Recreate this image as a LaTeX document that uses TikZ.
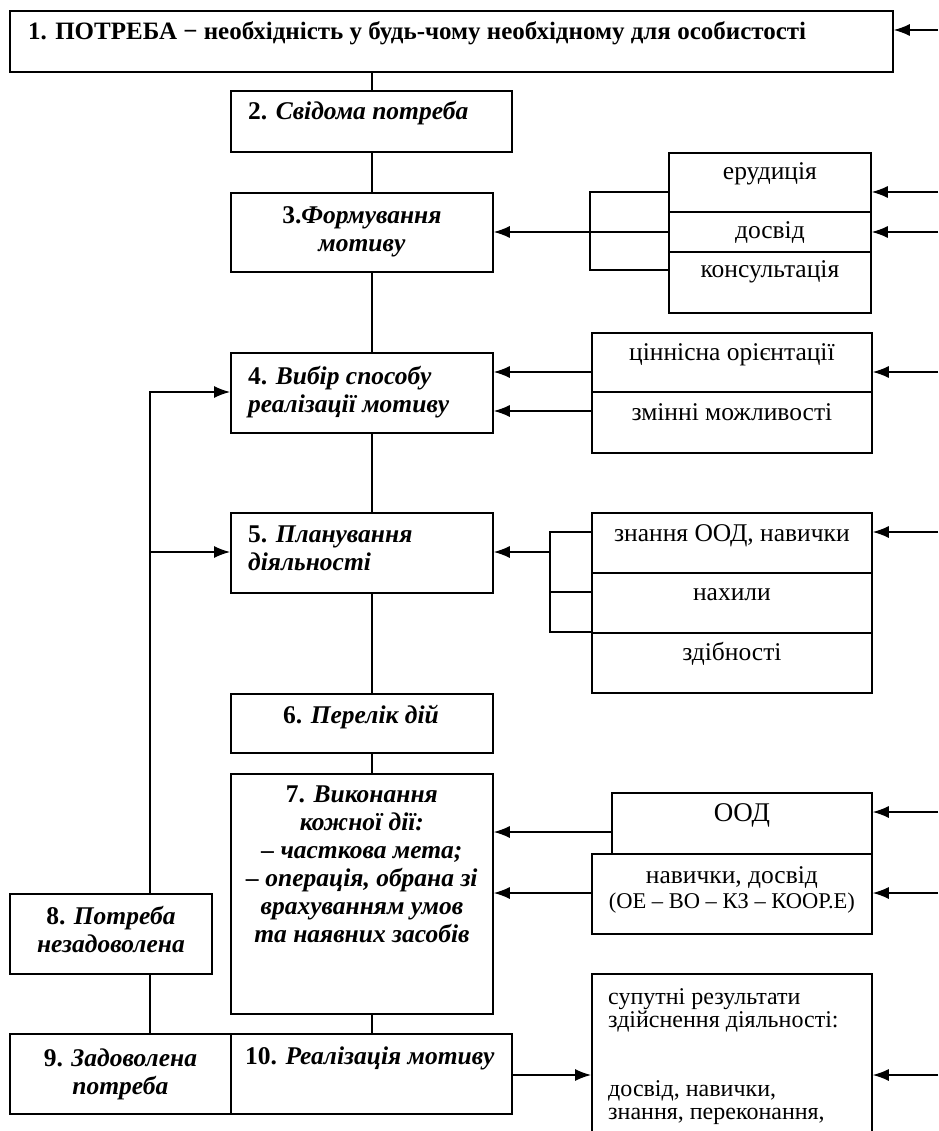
\documentclass[tikz,border=0pt]{standalone}
\usepackage{fontspec}
\setmainfont{Liberation Serif}
\usetikzlibrary{calc, arrows.meta}

\begin{document}
\begin{tikzpicture}[x=1pt, y=-1pt,
	blk/.style={draw=black, line width=1.8pt, inner sep=0pt, anchor=north west},
	lnk/.style={draw=black, line width=1.3pt},
	arr/.style={lnk, -{Latex[length=16pt,width=12pt]}},
	hd/.style={font=\fontsize{25.5}{28}\selectfont\bfseries, inner sep=0pt},
	sm/.style={font=\fontsize{25.5}{25}\selectfont, inner sep=0pt}]

	\useasboundingbox (0,0) rectangle (938,1131);

	\coordinate (spine) at (372,0);
	\coordinate (loop) at (150,0);
	\coordinate (edge) at (938,0);
	\coordinate (bra) at (590,0);
	\coordinate (brc) at (550,0);

	% Main chain
	\node[blk, minimum width=883pt, minimum height=61pt] (need) at (9,10) {};
	\node[blk, minimum width=281pt, minimum height=61pt] (aware) at (230,90) {};
	\node[blk, minimum width=262pt, minimum height=79pt] (form) at (230,192) {};
	\node[blk, minimum width=262pt, minimum height=80pt] (choice) at (230,352) {};
	\node[blk, minimum width=262pt, minimum height=80pt] (plan) at (230,512) {};
	\node[blk, minimum width=262pt, minimum height=59pt] (list) at (230,693) {};
	\node[blk, minimum width=262pt, minimum height=240pt] (exec) at (230,773) {};
	\node[blk, minimum width=202pt, minimum height=80pt] (unmet) at (9,893) {};
	\node[blk, minimum width=221pt, minimum height=80pt] (met) at (9,1033) {};
	\node[blk, minimum width=281pt, minimum height=80pt] (real) at (230,1033) {};

	\node[hd, anchor=base west, font=\fontsize{25}{28}\selectfont\bfseries] (needtxt) at (28,40)
		{1. ПОТРЕБА − необхідність у будь-чому необхідному для особистості};
	\node[hd, anchor=base west] (awaretxt) at (248,120) {2. \textit{Свідома потреба}};
	\node[hd, anchor=north, align=center] (formtxt) at ($(form.north)+(0,14)$)
		{3.\textit{Формування}\\ \textit{мотиву}};
	\node[hd, anchor=north west, align=left] (choicetxt) at ($(choice.north west)+(18,14)$)
		{4. \textit{Вибір способу}\\ \textit{реалізації мотиву}};
	\node[hd, anchor=north west, align=left] (plantxt) at ($(plan.north west)+(18,14)$)
		{5. \textit{Планування}\\ \textit{діяльності}};
	\node[hd, anchor=base] (listtxt) at (361,723) {6. \textit{Перелік дій}};
	\node[hd, anchor=north, align=center] (exectxt) at ($(exec.north)+(0,13)$)
		{7. \textit{Виконання}\\ \textit{кожної дії:}\\ \textit{– часткова мета;}\\
		\textit{– операція, обрана зі}\\ \textit{врахуванням умов}\\ \textit{та наявних засобів}};
	\node[hd, anchor=north, align=center] (unmettxt) at ($(unmet.north)+(0,13)$)
		{8. \textit{Потреба}\\ \textit{незадоволена}};
	\node[hd, anchor=north, align=center] (mettxt) at ($(met.north)+(0,16)$)
		{9. \textit{Задоволена}\\ \textit{потреба}};
	\node[hd, anchor=base west] (realtxt) at (245,1064) {10. \textit{Реалізація мотиву}};

	% Factors
	\node[blk, minimum width=202pt, minimum height=59pt] (erud) at (668,152) {};
	\node[blk, minimum width=202pt, minimum height=40pt] (dosv) at (668,211) {};
	\node[blk, minimum width=202pt, minimum height=61pt] (kons) at (668,251) {};
	\node[blk, minimum width=280pt, minimum height=59pt] (cinn) at (591,332) {};
	\node[blk, minimum width=280pt, minimum height=61pt] (zmin) at (591,391) {};
	\node[blk, minimum width=280pt, minimum height=60pt] (znan) at (591,512) {};
	\node[blk, minimum width=280pt, minimum height=60pt] (nakh) at (591,572) {};
	\node[blk, minimum width=280pt, minimum height=60pt] (zdib) at (591,632) {};
	\node[blk, minimum width=260pt, minimum height=61pt] (ood) at (611,792) {};
	\node[blk, minimum width=280pt, minimum height=80pt] (navy) at (591,853) {};
	\node[blk, minimum width=280pt, minimum height=180pt] (side) at (591,973) {};

	\node[sm, anchor=base] at ($(erud.north)+(0,28)$) {ерудиція};
	\node[sm, anchor=base] at ($(dosv.north)+(0,28)$) {досвід};
	\node[sm, anchor=base] at ($(kons.north)+(0,27)$) {консультація};
	\node[sm, anchor=base] at ($(cinn.north)+(0,28)$) {ціннісна орієнтації};
	\node[sm, anchor=base] at ($(zmin.north)+(0,29)$) {змінні можливості};
	\node[sm, anchor=base] at ($(znan.north)+(0,29)$) {знання ООД, навички};
	\node[sm, anchor=base] at ($(nakh.north)+(0,28)$) {нахили};
	\node[sm, anchor=base] at ($(zdib.north)+(0,28)$) {здібності};
	\node[sm, anchor=base, font=\fontsize{27}{28}\selectfont] at ($(ood.north)+(0,29)$) {ООД};
	\node[sm, anchor=north, align=center] at ($(navy.north)+(0,13)$)
		{навички, досвід\\ {\fontsize{22.5}{25}\selectfont (ОЕ – ВО – КЗ – КООР.Е)}};
	\node[sm, anchor=north west, align=left, font=\fontsize{24}{23}\selectfont]
		at ($(side.north west)+(17,15)$)
		{супутні результати\\ здійснення діяльності:\\[46pt] досвід, навички,\\ знання, переконання,};

	% Spine
	\draw[lnk] (need.south -| spine) -- (aware.north -| spine);
	\draw[lnk] (aware.south -| spine) -- (form.north -| spine);
	\draw[lnk] (form.south -| spine) -- (choice.north -| spine);
	\draw[lnk] (choice.south -| spine) -- (plan.north -| spine);
	\draw[lnk] (plan.south -| spine) -- (list.north -| spine);
	\draw[lnk] (list.south -| spine) -- (exec.north -| spine);
	\draw[lnk] (exec.south -| spine) -- (real.north -| spine);
	\draw[lnk] (unmet.south -| loop) -- (met.north -| loop);

	% Feedback
	\draw[arr]
		let
			\p1=(loop),
			\p2=([yshift=-40pt]choice.north west)
		in
		(unmet.north -| loop) -- (\x1,\y2) -- (\p2);
	\draw[arr]
		let
			\p1=(loop),
			\p2=([yshift=-40pt]plan.north west)
		in
		(\x1,\y2) -- (\p2);
	\draw[arr]
		let
			\p1=([yshift=-42pt]real.north east),
			\p2=(side.west)
		in
		(\p1) -- (\x2,\y1);

	% Brackets
	\draw[lnk]
		let
			\p1=([yshift=-40pt]erud.north west),
			\p2=(bra),
			\p3=([yshift=-19pt]kons.north west)
		in
		(\p1) -- (\x2,\y1) -- (\x2,\y3) -- (\p3);
	\draw[lnk]
		let
			\p1=([yshift=-21pt]dosv.north west),
			\p2=(bra)
		in
		(\p1) -- (\x2,\y1);
	\draw[arr]
		let
			\p1=([yshift=-21pt]dosv.north west),
			\p2=(bra),
			\p3=(form.east)
		in
		(\x2,\y1) -- (\x3,\y1);
	\draw[lnk]
		let
			\p1=([yshift=-20pt]znan.north west),
			\p2=(brc),
			\p3=(zdib.north west)
		in
		(\p1) -- (\x2,\y1) -- (\x2,\y3) -- (\p3);
	\draw[lnk]
		let
			\p1=([yshift=-20pt]nakh.north west),
			\p2=(brc)
		in
		(\p1) -- (\x2,\y1);
	\draw[arr]
		let
			\p1=([yshift=-40pt]znan.north west),
			\p2=(brc),
			\p3=(plan.east)
		in
		(\x2,\y1) -- (\x3,\y1);

	% Factors into the chain
	\draw[arr]
		let
			\p1=([yshift=-40pt]cinn.north west),
			\p2=(choice.east)
		in
		(\p1) -- (\x2,\y1);
	\draw[arr]
		let
			\p1=([yshift=-20pt]zmin.north west),
			\p2=(choice.east)
		in
		(\p1) -- (\x2,\y1);
	\draw[arr]
		let
			\p1=([yshift=-40pt]ood.north west),
			\p2=(exec.east)
		in
		(\p1) -- (\x2,\y1);
	\draw[arr]
		let
			\p1=([yshift=-40pt]navy.north west),
			\p2=(exec.east)
		in
		(\p1) -- (\x2,\y1);

	% Inputs from the right
	\foreach \src/\gap in {need/20, erud/40, dosv/21, cinn/40, znan/20, ood/20, navy/40, side/102}
		\draw[arr]
			let
				\p1=(edge),
				\p2=([yshift=-\gap pt]\src.north east)
			in
			(\x1,\y2) -- (\p2);

\end{tikzpicture}
\end{document}
